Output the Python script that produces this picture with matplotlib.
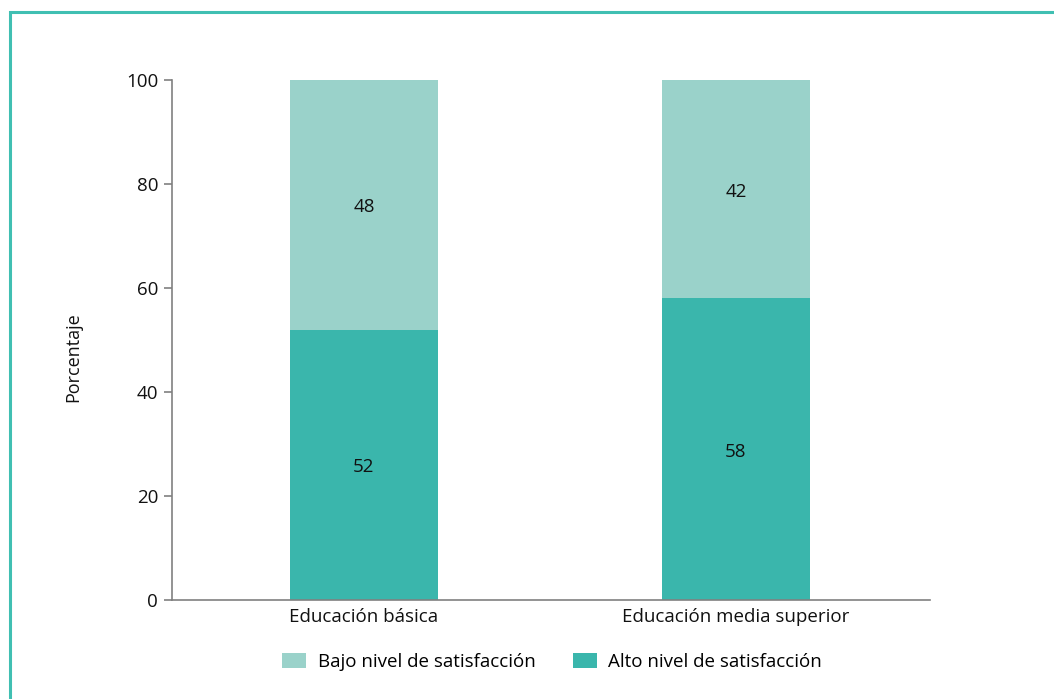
import matplotlib.pyplot as plt
from matplotlib.patches import Rectangle

categories = ["Educación básica", "Educación media superior"]
alto = [52, 58]
bajo = [48, 42]
series_names = ["Bajo nivel de satisfacción", "Alto nivel de satisfacción"]

dark = "#3AB6AC"
light = "#9AD2CA"
frame = "#40BFB2"
grey = "#808080"
ink = "#111111"

plt.rcParams["font.family"] = ["Open Sans", "DejaVu Sans"]

fig = plt.figure(figsize=(10.54, 6.99), dpi=100)
ax = fig.add_axes([172 / 1054, 1 - 600 / 699, (930 - 172) / 1054, 520 / 699])

# frame around the figure (only top and left edges fall inside the canvas)
fig.patches.append(Rectangle((10 / 1054, -0.1), 1.2, (1 - 12 / 699) + 0.1,
                             transform=fig.transFigure, fill=False,
                             edgecolor=frame, linewidth=2.2))

x = range(len(categories))
width = 0.398
b1 = ax.bar(x, alto, width, color=dark, label=series_names[1])
b2 = ax.bar(x, bajo, width, bottom=alto, color=light, label=series_names[0])

for i, (a, b) in enumerate(zip(alto, bajo)):
    ax.text(i, a / 2 - 0.5, str(a), ha="center", va="center", fontsize=13.5, color=ink)
    ax.text(i, a + b / 2 - 0.5, str(b), ha="center", va="center", fontsize=13.5, color=ink)

ax.set_xlim(-0.516, 1.522)
ax.set_ylim(0, 100)
ax.set_yticks([0, 20, 40, 60, 80, 100])
ax.set_xticks(list(x))
ax.set_xticklabels(categories)
ax.set_ylabel("Porcentaje", fontsize=13, color=ink)
ax.yaxis.set_label_coords(-0.118, 0.467)

for side in ["top", "right"]:
    ax.spines[side].set_visible(False)
for side in ["left", "bottom"]:
    ax.spines[side].set_color(grey)
    ax.spines[side].set_linewidth(1.2)
ax.tick_params(axis="y", length=6, width=1.2, color=grey, labelsize=13.5, pad=4, labelcolor=ink)
ax.tick_params(axis="x", length=0, labelsize=13.5, pad=6, labelcolor=ink)

fig.legend(handles=[b2, b1], labels=series_names, loc="center",
           bbox_to_anchor=(552 / 1054, 1 - 662 / 699), ncol=2, frameon=False,
           fontsize=13.5, handlelength=1.3, handleheight=0.9, columnspacing=2.0,
           handletextpad=0.6)

fig.savefig("out.png", dpi=100)
